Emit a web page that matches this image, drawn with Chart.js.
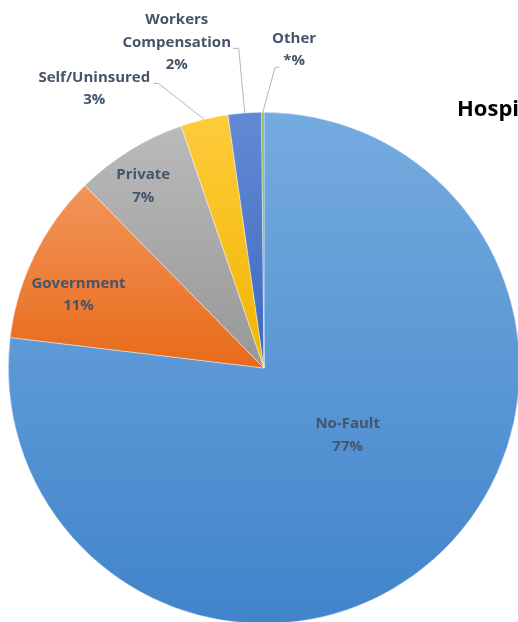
<!DOCTYPE html>
<html><head><meta charset="utf-8">
<script src="https://cdn.jsdelivr.net/npm/chart.js@4"></script>
<style>
html,body{margin:0;padding:0;background:#fff;overflow:hidden}
#wrap{position:relative;width:518px;height:622px;overflow:hidden}
#box{position:absolute;left:0;top:0;width:540px;height:640px}
</style></head><body>
<div id="wrap"><div id="box"><canvas id="c"></canvas></div></div>
<script>
// ---- data ----
const categories = ['No-Fault', 'Government', 'Private', 'Self/Uninsured', 'Workers Compensation', 'Other'];
const shares = [76.9, 10.75, 7.1, 3.0, 2.1, 0.15];
const shareLabels = ['77%', '11%', '7%', '3%', '2%', '*%'];
const labelLines = [['No-Fault'], ['Government'], ['Private'], ['Self/Uninsured'], ['Workers', 'Compensation'], ['Other']];
const titleText = 'Hospital Discharges by Payer';

// ---- style ----
const palette = [
  ['#75abdf', '#4184cb'],
  ['#f3955a', '#e86a1a'],
  ['#bababa', '#979797'],
  ['#ffcb3c', '#f1b500'],
  ['#628ad4', '#3d68c1'],
  ['#80c04c', '#69a73a']
];
// inside: radius fraction + angle shift (deg); outside: offsets from slice's outer mid point
const placement = [
  {type: 'in', rf: 0.42, shift: -9.6},
  {type: 'in', rf: 0.78, shift: -4.6},
  {type: 'in', rf: 0.854, shift: -1.9},
  {type: 'out', elbow: [-46, -36], end: [-51, -36], text: [-110, -30.5]},
  {type: 'out', elbow: [-6, -64.7], end: [-12, -64.7], text: [-68, -70.5]},
  {type: 'out', elbow: [12.3, -45], end: [16.3, -45], text: [31.3, -62.5]}
];
const LABEL_FONT = 'bold 15px "Open Sans", Lato, sans-serif';
const LABEL_COLOR = '#44546a';
const LINE_H = 22.5;

function sliceGradient(ctx) {
  const chart = ctx.chart, i = ctx.dataIndex;
  const area = chart.chartArea;
  const pal = palette[i];
  if (!area) return pal[1];
  const cx = (area.left + area.right) / 2, cy = (area.top + area.bottom) / 2;
  const r = Math.min(area.right - area.left, area.bottom - area.top) / 2;
  const total = shares.reduce((a, b) => a + b, 0);
  let cum = 0;
  for (let k = 0; k < i; k++) cum += shares[k];
  const a0 = -Math.PI / 2 + 2 * Math.PI * cum / total;
  const a1 = a0 + 2 * Math.PI * shares[i] / total;
  const ys = [cy, cy + r * Math.sin(a0), cy + r * Math.sin(a1)];
  [Math.PI / 2, -Math.PI / 2, 3 * Math.PI / 2].forEach(a => { if (a >= a0 && a <= a1) ys.push(cy + r * Math.sin(a)); });
  const y0 = Math.min(...ys), y1 = Math.max(...ys);
  const g = chart.ctx.createLinearGradient(0, y0, 0, Math.max(y1, y0 + 1));
  g.addColorStop(0, pal[0]);
  g.addColorStop(1, pal[1]);
  return g;
}

const labelPlugin = {
  id: 'pieLabels',
  afterDatasetsDraw(chart) {
    const c = chart.ctx;
    const meta = chart.getDatasetMeta(0);
    c.save();
    c.font = LABEL_FONT;
    c.fillStyle = LABEL_COLOR;
    c.textAlign = 'center';
    c.textBaseline = 'middle';
    meta.data.forEach((arc, i) => {
      const p = arc.getProps(['x', 'y', 'startAngle', 'endAngle', 'outerRadius'], true);
      const mid = (p.startAngle + p.endAngle) / 2;
      const pl = placement[i];
      const lines = labelLines[i].concat([shareLabels[i]]);
      let tx, ty;
      if (pl.type === 'in') {
        const a = mid + pl.shift * Math.PI / 180;
        tx = p.x + Math.cos(a) * p.outerRadius * pl.rf;
        ty = p.y + Math.sin(a) * p.outerRadius * pl.rf;
      } else {
        const ax = p.x + Math.cos(mid) * p.outerRadius;
        const ay = p.y + Math.sin(mid) * p.outerRadius;
        c.save();
        c.strokeStyle = '#a9b7c9';
        c.lineWidth = 1;
        c.beginPath();
        c.moveTo(ax, ay);
        c.lineTo(ax + pl.elbow[0], ay + pl.elbow[1]);
        c.lineTo(ax + pl.end[0], ay + pl.end[1]);
        c.stroke();
        c.restore();
        tx = ax + pl.text[0];
        ty = ay + pl.text[1];
      }
      const h = (lines.length - 1) * LINE_H;
      lines.forEach((s, k) => c.fillText(s, tx, ty - h / 2 + k * LINE_H));
    });
    // title (clipped at right edge, as in the reference)
    c.font = 'bold 22px "Open Sans", Lato, sans-serif';
    c.fillStyle = '#000000';
    c.textAlign = 'left';
    c.textBaseline = 'alphabetic';
    c.fillText(titleText, 457, 116);
    c.restore();
  }
};

new Chart(document.getElementById('c'), {
  type: 'pie',
  data: {
    labels: categories,
    datasets: [{
      data: shares,
      backgroundColor: sliceGradient,
      borderColor: 'rgba(255,255,255,0.7)',
      borderWidth: 0.6
    }]
  },
  options: {
    responsive: true,
    maintainAspectRatio: false,
    animation: false,
    layout: {padding: {left: 8, top: 112, right: 20, bottom: 16}},
    plugins: {legend: {display: false}, tooltip: {enabled: false}, title: {display: false}}
  },
  plugins: [labelPlugin]
});
</script>
</body></html>
